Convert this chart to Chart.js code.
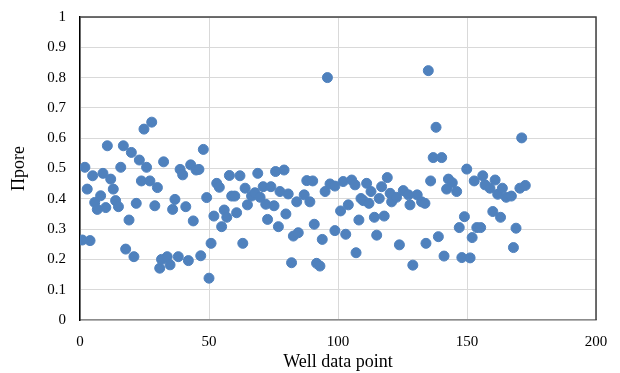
<!DOCTYPE html>
<html>
<head>
<meta charset="utf-8">
<script src="https://cdn.jsdelivr.net/npm/chart.js@4/dist/chart.umd.min.js"></script>
<style>
html,body{margin:0;padding:0;background:#fff;}
#wrap{width:620px;height:373px;position:relative;}
</style>
</head>
<body>
<div id="wrap"><canvas id="c" width="620" height="373"></canvas></div>
<script>
const wellPoint = [0.9,1.9,2.8,3.9,4.9,5.7,6.7,8.0,8.9,10.0,10.6,11.9,12.9,13.8,14.9,15.8,16.8,17.7,19.0,19.9,20.9,21.8,23.0,23.8,24.8,25.8,27.1,27.8,29.0,30.0,30.9,31.6,32.4,33.8,34.9,35.9,36.8,38.1,38.8,39.8,41.0,42.0,42.9,43.9,45.0,46.1,46.8,47.8,49.1,50.0,50.8,51.9,53.0,54.0,54.9,55.9,56.9,57.9,58.8,60.0,60.7,62.0,63.1,64.0,64.9,66.5,67.8,68.9,69.8,71.0,72.0,72.7,74.0,75.2,75.8,76.9,77.5,79.1,79.8,80.7,82.0,82.7,84.0,84.6,86.9,87.9,89.1,90.2,90.8,91.7,93.0,93.9,95.0,95.9,96.9,98.8,98.8,101.0,102.0,103.0,104.0,105.3,106.6,107.0,108.1,108.9,109.8,111.1,112.0,112.8,114.1,115.0,116.0,116.9,117.9,119.1,120.2,120.8,122.7,123.8,125.3,127.3,127.9,129.0,130.7,132.4,133.7,134.1,135.0,135.9,136.9,138.0,138.9,140.2,141.1,142.1,142.8,144.3,146.0,147.0,148.0,149.0,149.9,151.2,152.0,152.8,153.8,155.3,156.1,157.0,158.9,160.0,160.9,161.9,163.0,163.7,165.2,167.2,168.0,169.0,170.5,171.2,172.6];
const porosity = [0.264,0.504,0.432,0.262,0.476,0.388,0.365,0.41,0.484,0.371,0.575,0.465,0.432,0.394,0.374,0.504,0.575,0.234,0.33,0.553,0.209,0.385,0.528,0.459,0.630,0.504,0.459,0.653,0.377,0.437,0.171,0.200,0.522,0.209,0.182,0.365,0.398,0.209,0.497,0.479,0.374,0.196,0.512,0.327,0.495,0.497,0.212,0.563,0.404,0.138,0.253,0.343,0.451,0.438,0.308,0.363,0.339,0.477,0.409,0.409,0.354,0.476,0.253,0.435,0.380,0.409,0.420,0.484,0.405,0.440,0.382,0.332,0.440,0.377,0.490,0.308,0.424,0.495,0.350,0.416,0.189,0.277,0.390,0.288,0.413,0.460,0.390,0.459,0.316,0.187,0.178,0.266,0.424,0.800,0.449,0.295,0.442,0.360,0.457,0.283,0.380,0.462,0.446,0.222,0.330,0.401,0.394,0.451,0.385,0.424,0.339,0.280,0.401,0.440,0.343,0.470,0.418,0.390,0.405,0.248,0.427,0.413,0.380,0.181,0.413,0.390,0.385,0.253,0.823,0.459,0.536,0.636,0.275,0.536,0.211,0.432,0.465,0.453,0.424,0.305,0.206,0.341,0.498,0.205,0.272,0.459,0.305,0.305,0.476,0.446,0.435,0.358,0.462,0.415,0.339,0.435,0.405,0.409,0.239,0.303,0.435,0.601,0.444];
const xTitle = "Well data point";
const yTitle = "Пpore";

const points = wellPoint.map((x,i)=>({x:x,y:porosity[i]}));
const serif = "'Liberation Serif','Times New Roman',serif";

const frame = {
  id:'frame',
  afterDatasetsDraw(chart){
    const a = chart.chartArea, ctx = chart.ctx;
    ctx.save();
    ctx.strokeStyle = '#404040';
    ctx.lineWidth = 1.5;
    ctx.beginPath();
    ctx.moveTo(a.left, a.top);
    ctx.lineTo(a.right, a.top);
    ctx.lineTo(a.right, a.bottom);
    ctx.stroke();
    ctx.restore();
  }
};

new Chart(document.getElementById('c'), {
  type:'scatter',
  data:{datasets:[{data:points, backgroundColor:'#4f81bd', borderColor:'#4f81bd', pointRadius:5, pointHoverRadius:5}]},
  options:{
    responsive:false, animation:false,
    layout:{padding:{left:0,right:24,top:17,bottom:0}},
    plugins:{legend:{display:false}, tooltip:{enabled:false}},
    scales:{
      x:{type:'linear', min:0, max:200,
        ticks:{stepSize:50, color:'#000', font:{family:serif,size:15}, padding:13, maxRotation:0},
        grid:{color:'#d9d9d9', drawTicks:false, lineWidth:1},
        border:{color:'#8c8c8c', width:1.5},
        title:{display:true, text:xTitle, color:'#000', font:{family:serif,size:18}, padding:{top:0,bottom:0}},
        afterFit(s){ s.height = 53; s.paddingLeft = 0; s.paddingRight = 0; }
      },
      y:{type:'linear', min:0, max:1,
        ticks:{stepSize:0.1, color:'#000', font:{family:serif,size:15}, padding:14,
          callback:(v)=>Number(v.toFixed(1)).toString()},
        grid:{color:'#d9d9d9', drawTicks:false, lineWidth:1},
        border:{color:'#000', width:1.5},
        title:{display:true, text:yTitle, color:'#000', font:{family:serif,size:18}, padding:{top:8,bottom:0}},
        afterFit(s){ s.width = 80; s.paddingTop = 0; s.paddingBottom = 0; }
      }
    }
  },
  plugins:[frame]
});
</script>
</body>
</html>
